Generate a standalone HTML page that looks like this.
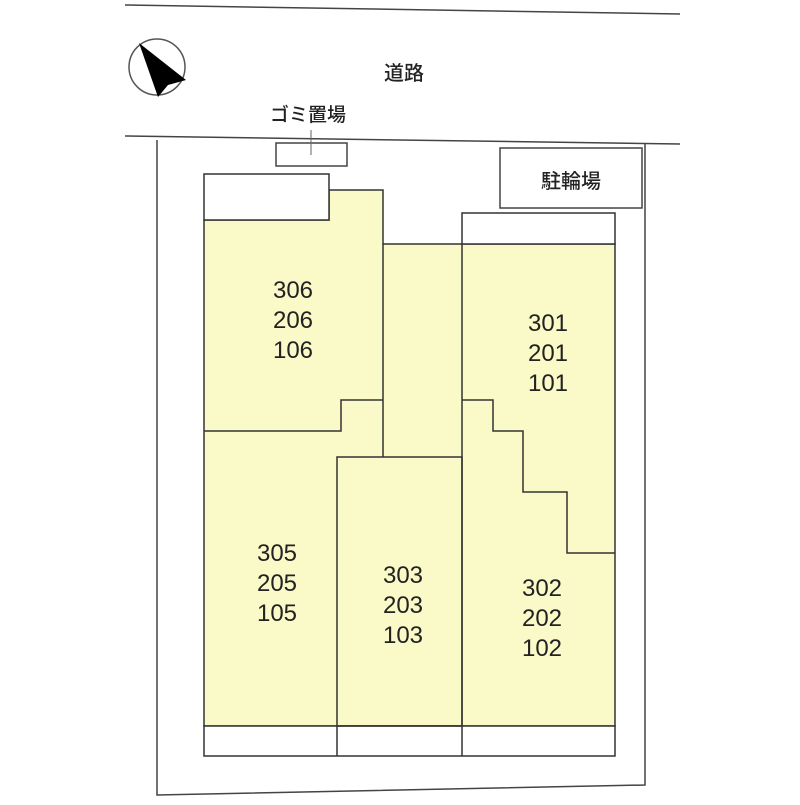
<!DOCTYPE html>
<html><head><meta charset="utf-8"><style>
body{margin:0;background:#fff}
svg text{font-family:"Liberation Sans","Noto Sans CJK JP",sans-serif;fill:#222}
</style></head><body>
<svg width="800" height="800" viewBox="0 0 800 800" xmlns="http://www.w3.org/2000/svg">
<g stroke="#444" stroke-width="1.5" fill="none">
<line x1="125" y1="5" x2="680" y2="14"/>
<line x1="125" y1="136" x2="680" y2="144"/>
<polyline points="157,140 157,795 645,785 645,143"/>
</g>
<circle cx="157" cy="67" r="28" fill="#fff" stroke="#555" stroke-width="1.5"/>
<polygon points="139,43 186,80 168,85 158,97" fill="#000"/>
<text x="404" y="80" font-size="20" font-weight="500" text-anchor="middle">道路</text>
<text x="308" y="121" font-size="19" font-weight="500" text-anchor="middle">ゴミ置場</text>
<rect x="276" y="143" width="71" height="23" fill="#fff" stroke="#444" stroke-width="1.5"/>
<line x1="311" y1="130" x2="311" y2="155" stroke="#666"/>
<rect x="500" y="148" width="142" height="60" fill="#fff" stroke="#444" stroke-width="1.5"/>
<text x="571" y="188" font-size="20" font-weight="500" text-anchor="middle">駐輪場</text>
<g stroke="#333" stroke-width="1.5">
<polygon points="204,220 329,220 329,190 383,190 383,244 615,244 615,726 204,726" fill="#fafac8"/>
<rect x="204" y="174" width="125" height="46" fill="#fff"/>
<rect x="462" y="213" width="153" height="31" fill="#fff"/>
<rect x="204" y="726" width="411" height="30" fill="#fff"/>
<line x1="383" y1="244" x2="383" y2="457" />
<line x1="462" y1="244" x2="462" y2="756"/>
<line x1="337" y1="726" x2="337" y2="756"/>
<polyline fill="none" points="204,431 341,431 341,400 383,400"/>
<rect x="337" y="457" width="125" height="269" fill="none"/>
<polyline fill="none" points="462,400 493,400 493,431 523,431 523,492 567,492 567,553 615,553"/>
</g>
<g font-size="24" text-anchor="middle">
<text x="293" y="298">306</text><text x="293" y="328">206</text><text x="293" y="358">106</text>
<text x="548" y="331">301</text><text x="548" y="361">201</text><text x="548" y="391">101</text>
<text x="277" y="561">305</text><text x="277" y="591">205</text><text x="277" y="621">105</text>
<text x="403" y="583">303</text><text x="403" y="613">203</text><text x="403" y="643">103</text>
<text x="542" y="596">302</text><text x="542" y="626">202</text><text x="542" y="656">102</text>
</g>
</svg>
</body></html>
